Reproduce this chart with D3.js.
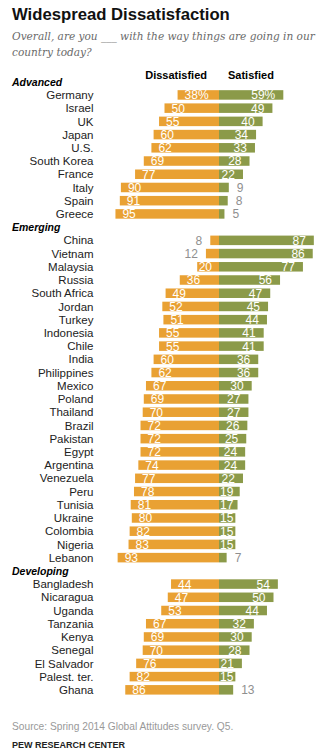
<!DOCTYPE html>
<html>
<head>
<meta charset="utf-8">
<script src="https://cdn.jsdelivr.net/npm/d3@7"></script>
<style>
  body { margin: 0; background: #fff; }
  svg { display: block; font-family: "Liberation Sans", Arial, sans-serif; }
</style>
</head>
<body>
<main></main>
<script>
const width = 332;
const height = 756;

const groups = ["Advanced", "Emerging", "Developing"];

const advancedCountries = ["Germany", "Israel", "UK", "Japan", "U.S.", "South Korea", "France", "Italy", "Spain", "Greece"];
const advancedDissatisfied = [38, 50, 55, 60, 62, 69, 77, 90, 91, 95];
const advancedSatisfied = [59, 49, 40, 34, 33, 28, 22, 9, 8, 5];

const emergingCountries = ["China", "Vietnam", "Malaysia", "Russia", "South Africa", "Jordan", "Turkey", "Indonesia", "Chile", "India", "Philippines", "Mexico", "Poland", "Thailand", "Brazil", "Pakistan", "Egypt", "Argentina", "Venezuela", "Peru", "Tunisia", "Ukraine", "Colombia", "Nigeria", "Lebanon"];
const emergingDissatisfied = [8, 12, 20, 36, 49, 52, 51, 55, 55, 60, 62, 67, 69, 70, 72, 72, 72, 74, 77, 78, 81, 80, 82, 83, 93];
const emergingSatisfied = [87, 86, 77, 56, 47, 45, 44, 41, 41, 36, 36, 30, 27, 27, 26, 25, 24, 24, 22, 19, 17, 15, 15, 15, 7];

const developingCountries = ["Bangladesh", "Nicaragua", "Uganda", "Tanzania", "Kenya", "Senegal", "El Salvador", "Palest. ter.", "Ghana"];
const developingDissatisfied = [44, 47, 53, 67, 69, 70, 76, 82, 86];
const developingSatisfied = [54, 50, 44, 32, 30, 28, 21, 15, 13];

const orange = "#e9a133";
const green = "#8b9a49";
const grey = "#8f8f8f";

// one row per group header and one per country
const groupData = [
    [advancedCountries, advancedDissatisfied, advancedSatisfied],
    [emergingCountries, emergingDissatisfied, emergingSatisfied],
    [developingCountries, developingDissatisfied, developingSatisfied]
];
const rows = [];
groups.forEach((g, gi) => {
    rows.push({key: "h:" + g, header: true, name: g});
    const [names, dis, sat] = groupData[gi];
    names.forEach((n, i) => rows.push({key: n, header: false, name: n, dis: dis[i], sat: sat[i], first: gi === 0 && i === 0}));
});

const svg = d3.select("main")
    .append("svg")
        .attr("width", width)
        .attr("height", height);

const y = d3.scaleBand()
    .domain(rows.map(d => d.key))
    .range([75.1, 75.1 + rows.length * 13.22])
    .paddingInner(0.28)
    .paddingOuter(0.14);
const x = d3.scaleLinear()
    .domain([-100, 100])
    .range([110, 328]);
const zero = x(0);
const cy = d => y(d.key) + y.bandwidth() / 2;

// title and subtitle
svg.append("text")
    .attr("x", 12).attr("y", 19.5)
    .attr("font-size", 16.7).attr("font-weight", "bold")
    .attr("fill", "#111")
    .text("Widespread Dissatisfaction");

const sub = svg.append("text")
    .attr("font-family", "'DejaVu Serif Condensed', 'DejaVu Serif', serif")
    .attr("font-style", "italic")
    .attr("font-size", 13)
    .attr("fill", "#6a6a6a");
const line1 = sub.append("tspan").attr("x", 12).attr("y", 40).text("Overall, are you ___ with the way things are going in our");
sub.append("tspan").attr("x", 12).attr("y", 55.5).text("country today?");
// fit first line to the width it has in the original
const w1 = line1.node().getComputedTextLength();
sub.attr("font-size", 13 * 303 / w1);

// column headers
svg.append("text")
    .attr("x", zero - 12).attr("y", 78.5)
    .attr("text-anchor", "end")
    .attr("font-size", 11).attr("font-weight", "bold")
    .text("Dissatisfied");
svg.append("text")
    .attr("x", zero + 9).attr("y", 78.5)
    .attr("font-size", 11).attr("font-weight", "bold")
    .text("Satisfied");

const countries = rows.filter(d => !d.header);

// group headers
svg.append("g")
    .selectAll("text")
    .data(rows.filter(d => d.header))
    .join("text")
        .attr("x", 12)
        .attr("y", cy)
        .attr("dy", "0.38em")
        .attr("font-size", 10.5)
        .attr("font-weight", "bold")
        .attr("font-style", "italic")
        .text(d => d.name);

// country labels
svg.append("g")
    .selectAll("text")
    .data(countries)
    .join("text")
        .attr("x", 93.5)
        .attr("y", cy)
        .attr("dy", "0.36em")
        .attr("text-anchor", "end")
        .attr("font-size", 11.5)
        .attr("fill", "#222")
        .text(d => d.name);

// bars
svg.append("g")
    .selectAll("rect")
    .data(countries)
    .join("rect")
        .attr("x", d => x(-d.dis))
        .attr("y", d => y(d.key))
        .attr("width", d => zero - x(-d.dis))
        .attr("height", y.bandwidth())
        .attr("fill", orange);

svg.append("g")
    .selectAll("rect")
    .data(countries)
    .join("rect")
        .attr("x", zero)
        .attr("y", d => y(d.key))
        .attr("width", d => x(d.sat) - zero)
        .attr("height", y.bandwidth())
        .attr("fill", green);

// value labels
const small = 14;
svg.append("g")
    .selectAll("text")
    .data(countries)
    .join("text")
        .attr("y", cy)
        .attr("dy", "0.37em")
        .attr("font-size", 12)
        .attr("fill", d => d.dis < small ? grey : "#fff")
        .text(d => d.dis + (d.first ? "%" : ""))
        .each(function(d) {
            const w = this.getComputedTextLength();
            const left = x(-d.dis);
            if (d.dis < small) {
                d3.select(this).attr("text-anchor", "end").attr("x", left - 8);
            } else {
                d3.select(this).attr("x", Math.min(left + 7, zero - 7 - w));
            }
        });

svg.append("g")
    .selectAll("text")
    .data(countries)
    .join("text")
        .attr("y", cy)
        .attr("dy", "0.37em")
        .attr("font-size", 12)
        .attr("fill", d => d.sat < small ? grey : "#fff")
        .text(d => d.sat + (d.first ? "%" : ""))
        .each(function(d) {
            const w = this.getComputedTextLength();
            const right = x(d.sat);
            if (d.sat < small) {
                d3.select(this).attr("x", right + 8);
            } else {
                d3.select(this).attr("text-anchor", "end").attr("x", Math.max(right - 8, zero + 1 + w));
            }
        });

// footer
svg.append("text")
    .attr("x", 12).attr("y", 730)
    .attr("font-size", 10.2)
    .attr("fill", "#999")
    .text("Source: Spring 2014 Global Attitudes survey. Q5.");
svg.append("text")
    .attr("x", 12).attr("y", 748)
    .attr("font-size", 9)
    .attr("font-weight", "bold")
    .attr("fill", "#222")
    .text("PEW RESEARCH CENTER");
</script>
</body>
</html>
